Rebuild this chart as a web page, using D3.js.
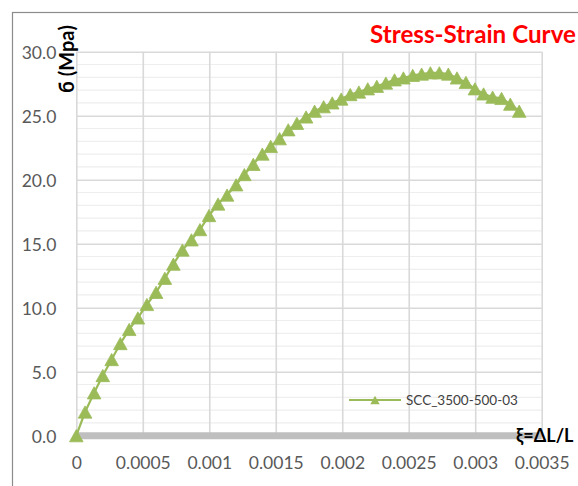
<!DOCTYPE html>
<html>
<head>
<meta charset="utf-8">
<script src="https://cdn.jsdelivr.net/npm/d3@7"></script>
<style>
  html, body { margin: 0; padding: 0; background: #ffffff; }
  svg { display: block; }
</style>
</head>
<body>
<svg id="chart" width="578" height="486"></svg>
<script>
// Strain readings (ΔL/L) for specimen SCC_3500-500-03
const strain = [
  0, 0.000066, 0.000134, 0.000199, 0.000266, 0.000331, 0.000398, 0.000463, 0.000531, 0.000600,
  0.000666, 0.000730, 0.000798, 0.000866, 0.000930, 0.000998, 0.001066, 0.001134, 0.001202, 0.001264,
  0.001331, 0.001399, 0.001462, 0.001529, 0.001594, 0.001659, 0.001728, 0.001792, 0.001860, 0.001925,
  0.001992, 0.002060, 0.002125, 0.002192, 0.002260, 0.002328, 0.002393, 0.002460, 0.002530, 0.002597,
  0.002663, 0.002730, 0.002798, 0.002863, 0.002930, 0.002998, 0.003063, 0.003131, 0.003198, 0.003264,
  0.003331
];

// Stress readings (MPa)
const stress = [
  0, 1.85, 3.35, 4.7, 5.95, 7.2, 8.3, 9.2, 10.25, 11.2,
  12.3, 13.4, 14.5, 15.3, 16.1, 17.2, 18.1, 18.8, 19.6, 20.4,
  21.2, 22.0, 22.6, 23.2, 23.9, 24.4, 24.9, 25.35, 25.7, 26.0,
  26.3, 26.65, 26.85, 27.1, 27.3, 27.55, 27.8, 27.95, 28.15, 28.25,
  28.35, 28.35, 28.25, 27.95, 27.6, 27.1, 26.7, 26.45, 26.35, 25.9,
  25.35
];

const xTicks = [0, 0.0005, 0.001, 0.0015, 0.002, 0.0025, 0.003, 0.0035];
const xTickLabels = ["0", "0.0005", "0.001", "0.0015", "0.002", "0.0025", "0.003", "0.0035"];
const yTicks = [0, 5, 10, 15, 20, 25, 30];
const yMinorTicks = [1, 2, 3, 4, 6, 7, 8, 9, 11, 12, 13, 14, 16, 17, 18, 19, 21, 22, 23, 24, 26, 27, 28, 29];

const seriesName = "SCC_3500-500-03";
const chartTitle = "Stress-Strain Curve";
const yTitle = "б (Mpa)";
const xTitle = "ξ=ΔL/L";

const green = "#9bbb59";
const tickFont = "Lato, 'Liberation Sans', sans-serif";

const svg = d3.select("#chart");

// Plot frame
const plotLeft = 76.3, plotRight = 541.7, plotTop = 51.7, plotBottom = 435.7;

const x = d3.scaleLinear().domain([0, 0.0035]).range([plotLeft, plotRight]);
const y = d3.scaleLinear().domain([0, 30]).range([plotBottom, plotTop]);

// Outer chart border
svg.append("rect")
  .attr("x", 12.5).attr("y", 12.5)
  .attr("width", 600).attr("height", 500)
  .attr("fill", "#ffffff")
  .attr("stroke", "#8c8c8c")
  .attr("stroke-width", 1.2);

// Minor horizontal gridlines
svg.append("g")
  .selectAll("line")
  .data(yMinorTicks)
  .join("line")
  .attr("x1", plotLeft).attr("x2", plotRight)
  .attr("y1", d => y(d)).attr("y2", d => y(d))
  .attr("stroke", "#eeeeee")
  .attr("stroke-width", 1.2);

// Major gridlines via axes
const yGrid = svg.append("g")
  .attr("transform", `translate(${plotLeft},0)`)
  .call(d3.axisRight(y).tickValues(yTicks).tickSize(plotRight - plotLeft).tickFormat(""));
yGrid.select(".domain").remove();
yGrid.selectAll("line").attr("stroke", "#d9d9d9").attr("stroke-width", 1.6);

const xGrid = svg.append("g")
  .attr("transform", `translate(0,${plotTop})`)
  .call(d3.axisBottom(x).tickValues(xTicks).tickSize(plotBottom - plotTop).tickFormat(""));
xGrid.select(".domain").remove();
xGrid.selectAll("line").attr("stroke", "#d9d9d9").attr("stroke-width", 1.6);

// Horizontal axis line (thick grey bar at zero)
svg.append("line")
  .attr("x1", x(0)).attr("x2", x(0.0035))
  .attr("y1", y(0)).attr("y2", y(0))
  .attr("stroke", "#bfbfbf")
  .attr("stroke-width", 7);

// Y tick labels
const yAxis = svg.append("g")
  .attr("transform", `translate(${plotLeft - 20},0)`)
  .call(d3.axisLeft(y).tickValues(yTicks).tickSize(0).tickPadding(0).tickFormat(d3.format(".1f")));
yAxis.select(".domain").remove();
yAxis.selectAll("text")
  .attr("fill", "#595959")
  .attr("font-family", tickFont)
  .attr("font-size", 17.5)
  .attr("dy", "0.36em");

// X tick labels
const xAxis = svg.append("g")
  .attr("transform", `translate(0,${plotBottom + 20})`)
  .call(d3.axisBottom(x).tickValues(xTicks).tickSize(0).tickPadding(0)
    .tickFormat((d, i) => xTickLabels[i]));
xAxis.select(".domain").remove();
xAxis.selectAll("text")
  .attr("fill", "#595959")
  .attr("font-family", tickFont)
  .attr("font-size", 17.5)
  .attr("dy", "0.75em");

// Box-centred triangle marker
const triangleBox = {
  draw(context, size) {
    const w = Math.sqrt(size * 2.2);
    const h = w * 0.9;
    context.moveTo(0, -h / 2);
    context.lineTo(w / 2, h / 2);
    context.lineTo(-w / 2, h / 2);
    context.closePath();
  }
};

const points = strain.map((s, i) => [s, stress[i]]);

// Series line
svg.append("path")
  .datum(points)
  .attr("fill", "none")
  .attr("stroke", green)
  .attr("stroke-width", 2.2)
  .attr("d", d3.line().x(d => x(d[0])).y(d => y(d[1])));

// Series markers
svg.append("g")
  .selectAll("path")
  .data(points)
  .join("path")
  .attr("transform", d => `translate(${x(d[0])},${y(d[1])})`)
  .attr("d", d3.symbol().type(triangleBox).size(84))
  .attr("fill", green)
  .attr("stroke", green)
  .attr("stroke-width", 0.8)
  .attr("stroke-linejoin", "round");

// Legend
const legend = svg.append("g").attr("transform", "translate(349,400)");
legend.append("line")
  .attr("x1", 0).attr("x2", 52)
  .attr("y1", 0).attr("y2", 0)
  .attr("stroke", green).attr("stroke-width", 2.2);
legend.append("path")
  .attr("transform", "translate(26,0)")
  .attr("d", d3.symbol().type(triangleBox).size(40))
  .attr("fill", green);
legend.append("text")
  .attr("x", 57).attr("y", 5)
  .attr("fill", "#404040")
  .attr("font-family", tickFont)
  .attr("font-size", 13.5)
  .text(seriesName);

// Title
svg.append("text")
  .attr("x", 370).attr("y", 43)
  .attr("fill", "#ff0000")
  .attr("font-family", "Lato, 'Liberation Sans', sans-serif")
  .attr("font-weight", "bold")
  .attr("font-size", 24.2)
  .text(chartTitle);

// Y axis title
svg.append("text")
  .attr("transform", "translate(73.5,59) rotate(-90)")
  .attr("text-anchor", "middle")
  .attr("fill", "#000000")
  .attr("font-family", "Lato, 'Liberation Sans', sans-serif")
  .attr("font-weight", "bold")
  .attr("font-size", 20)
  .text(yTitle);

// X axis title
svg.append("text")
  .attr("x", 516).attr("y", 442)
  .attr("fill", "#000000")
  .attr("font-family", "Lato, 'Liberation Sans', sans-serif")
  .attr("font-weight", "bold")
  .attr("font-size", 18)
  .text(xTitle);
</script>
</body>
</html>
